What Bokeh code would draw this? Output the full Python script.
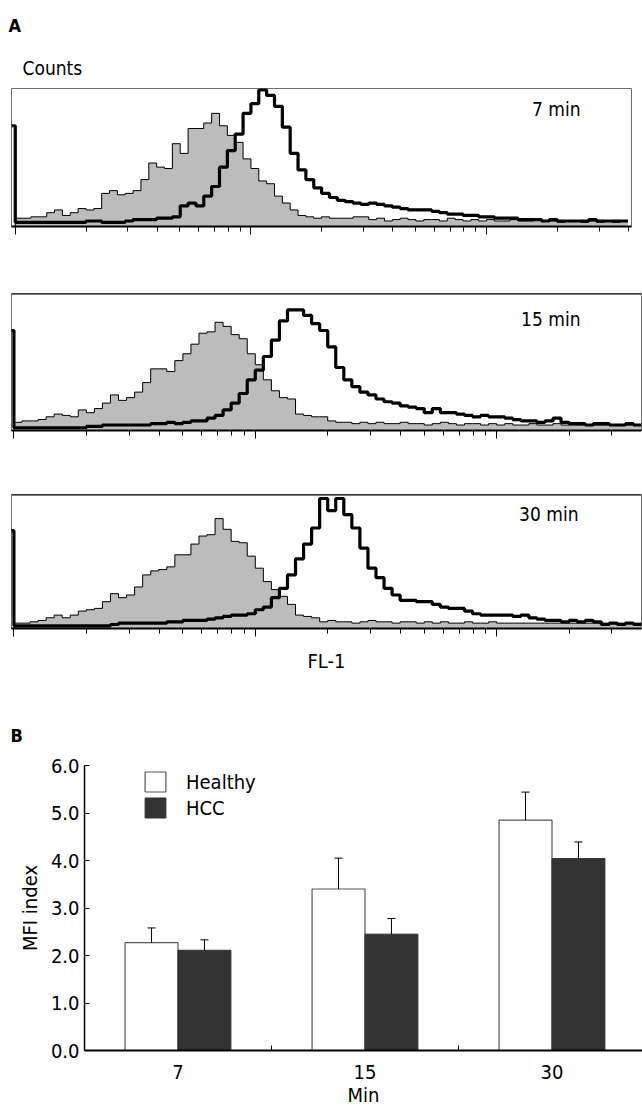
import numpy as np
from bokeh.plotting import figure
from bokeh.models import (Range1d, FixedTicker, SingleIntervalTicker, Label, Legend, LegendItem,
                          Whisker, TeeHead, ColumnDataSource, NumeralTickFormatter, Span,
                          CustomJSTickFormatter, Title)
from bokeh.embed import file_html
from bokeh.resources import INLINE

FONT = "DejaVu Sans Condensed"

# ---------------- Panel A data (flow cytometry histograms, % of max counts) -------------
time_labels = ["7 min", "15 min", "30 min"]
bins_per_decade = 30          # histogram channels per log decade
first_bin = -1                # first channel starts one bin below 10^0 (edge spike)
decades = [1, 10, 100]
minor_mantissas = [2, 3, 4, 5, 6, 7, 8, 9]

control_7 = [0,
             6, 6, 7, 7, 10, 12, 8, 10, 13, 12, 13,
             24, 26, 23, 24, 26, 34, 46, 43, 42, 60,
             53, 71, 71, 75, 82, 73, 66, 61, 49, 42,
             33, 31, 22, 17, 12, 8, 7, 6, 7, 6,
             6, 6, 7, 7, 5, 6, 4, 5, 6, 5,
             4, 5, 5, 4, 6, 5, 4, 5, 4, 5,
             4, 4, 5, 4, 4, 5, 4, 4, 3, 4,
             4, 3, 4, 3, 4, 3, 4]
stained_7 = [73,
             3, 3, 3, 3, 3, 3, 3, 3, 3, 4, 4,
             3, 3, 3, 4, 5, 5, 5, 6, 6, 7,
             15, 17, 15, 22, 29, 43, 55, 67, 82, 89,
             99, 95, 87, 72, 53, 41, 34, 28, 24, 21,
             19, 18, 17, 16, 17, 16, 15, 14, 13, 12,
             12, 12, 11, 10, 9, 9, 8, 8, 7, 7,
             6, 6, 6, 5, 5, 5, 4, 5, 4, 4,
             4, 4, 5, 4, 4, 4, 4]
control_15 = [0,
              6, 7, 7, 8, 10, 12, 11, 10, 15, 13, 16,
              20, 26, 22, 24, 28, 35, 45, 45, 43, 51,
              56, 63, 71, 72, 79, 76, 70, 67, 56, 48,
              37, 29, 24, 23, 12, 11, 10, 10, 7, 6,
              6, 5, 6, 5, 6, 5, 5, 6, 5, 5,
              4, 5, 6, 5, 4, 5, 5, 4, 5, 4,
              5, 4, 4, 5, 4, 4, 5, 4, 4, 4,
              4, 4, 4, 4, 4, 4, 4]
stained_15 = [73,
              2, 2, 2, 2, 2, 2, 2, 2, 2, 3, 3,
              4, 4, 4, 4, 4, 4, 5, 5, 6, 5,
              6, 7, 7, 9, 11, 15, 20, 27, 37, 44,
              54, 66, 80, 88, 88, 84, 78, 73, 61, 46,
              37, 32, 28, 26, 23, 21, 20, 18, 17, 16,
              13, 16, 13, 13, 12, 11, 10, 11, 10, 10,
              9, 8, 7, 7, 6, 7, 9, 6, 5, 5,
              4, 5, 5, 4, 4, 5, 4]
control_30 = [0,
              4, 4, 5, 6, 8, 10, 8, 10, 13, 14, 15,
              20, 26, 23, 25, 31, 40, 43, 44, 46, 55,
              55, 63, 69, 70, 82, 74, 65, 64, 54, 45,
              35, 29, 24, 18, 10, 9, 8, 5, 6, 5,
              5, 4, 5, 6, 5, 5, 4, 5, 5, 4,
              5, 4, 5, 4, 4, 5, 4, 4, 5, 4,
              4, 4, 4, 4, 4, 4, 4, 4, 4, 4,
              4, 4, 4, 4, 4, 4, 4]
stained_30 = [73,
              2, 2, 2, 2, 2, 2, 2, 2, 2, 2, 2,
              2, 3, 4, 4, 4, 4, 4, 4, 5, 5,
              6, 6, 6, 7, 8, 9, 10, 10, 11, 14,
              16, 23, 30, 40, 52, 63, 75, 97, 88, 97,
              85, 75, 60, 45, 38, 30, 25, 21, 21, 20,
              20, 18, 16, 15, 15, 13, 11, 10, 10, 10,
              10, 9, 10, 8, 7, 6, 6, 5, 6, 5,
              6, 5, 3, 4, 3, 4, 3]

# ---------------- Panel B data (MFI index) ----------------
minutes = ["7", "15", "30"]
healthy = [2.27, 3.40, 4.85]
healthy_sd = [0.31, 0.65, 0.59]
hcc = [2.11, 2.45, 4.04]
hcc_sd = [0.22, 0.33, 0.35]

blank = CustomJSTickFormatter(code="return ''")


def histogram(control, stained, tag, xlog, height, border_top, border_bottom,
              border_right, tag_dx, tag_dy, thick_top=False):
    n = len(control)
    edges = 10 ** ((np.arange(n + 1) + first_bin) / bins_per_decade)
    c = list(control) + [control[-1]]
    s = list(stained) + [stained[-1]]
    x0, x1 = 10 ** xlog[0], 10 ** xlog[1]
    p = figure(width=642, height=height, x_axis_type="log",
               x_range=Range1d(x0, x1), y_range=Range1d(0, 100),
               toolbar_location=None, output_backend="svg", y_axis_location=None,
               min_border_left=11, min_border_right=border_right,
               min_border_top=border_top, min_border_bottom=border_bottom)
    p.grid.visible = False
    p.outline_line_color = "#707070"
    p.outline_line_width = 1
    p.background_fill_color = "white"
    p.border_fill_color = "white"
    p.varea_step(x=edges, y1=0, y2=c, step_mode="after", fill_color="#bcbcbc")
    p.step(x=edges, y=s, mode="after", line_color="black", line_width=3.2)
    p.step(x=edges, y=c, mode="after", line_color="black", line_width=1)
    minors = [m * d for d in decades for m in minor_mantissas if m * d <= x1]
    ax = p.xaxis[0]
    ax.ticker = FixedTicker(ticks=[d for d in decades if d <= x1], minor_ticks=minors)
    ax.formatter = blank
    ax.major_label_text_font_size = "6px"
    ax.major_label_standoff = 0
    ax.major_tick_out = 8
    ax.major_tick_in = 0
    ax.minor_tick_out = 5
    ax.minor_tick_in = 0
    ax.axis_line_width = 2
    ax.axis_line_color = "black"
    ax.major_tick_line_color = "black"
    ax.minor_tick_line_color = "black"
    if thick_top:
        p.add_layout(Span(location=100, dimension="width", line_color="black", line_width=2))
    p.add_layout(Label(x=x1, y=100, x_offset=tag_dx, y_offset=tag_dy, text=tag,
                       text_align="right", text_baseline="middle", text_font=FONT,
                       text_font_size="19px", text_color="black"))
    return p


p1 = histogram(control_7, stained_7, time_labels[0], (-0.016, 2.615), 245,
               88, 19, 11, -51, -20)
p1.add_layout(Title(text="Counts", align="left", offset=11, standoff=19, text_font=FONT,
                    text_font_size="19px", text_font_style="normal", text_color="black"),
              "above")
p1.add_layout(Title(text="A", align="left", offset=-3, standoff=19, text_font=FONT,
                    text_font_size="18px", text_font_style="bold", text_color="black"),
              "above")

p2 = histogram(control_15, stained_15, time_labels[1], (-0.01, 2.60), 205,
               48, 20, 1, -61, -25, thick_top=True)
p3 = histogram(control_30, stained_30, time_labels[2], (-0.01, 2.60), 240,
               44, 62, 1, -63, -19, thick_top=True)
ax3 = p3.xaxis[0]
ax3.axis_label = "FL-1"
ax3.axis_label_text_font = FONT
ax3.axis_label_text_font_size = "20px"
ax3.axis_label_text_font_style = "normal"
ax3.axis_label_text_color = "black"
ax3.axis_label_standoff = 12

# ---------------- Panel B ----------------
centers = np.arange(len(minutes)) + 0.5
bar_w = 0.283
p4 = figure(width=642, height=419, x_range=Range1d(0, 2.984), y_range=Range1d(0, 6),
            toolbar_location=None, output_backend="svg",
            min_border_left=84, min_border_right=0, min_border_top=75, min_border_bottom=57)
p4.grid.visible = False
p4.outline_line_color = None
r_h = p4.vbar(x=centers - bar_w / 2, top=healthy, width=bar_w, bottom=0,
              fill_color="white", line_color="#555555", line_width=1.2)
r_c = p4.vbar(x=centers + bar_w / 2, top=hcc, width=bar_w, bottom=0,
              fill_color="#333333", line_color="#333333", line_width=1)
for xs, vals, sds in ((centers - bar_w / 2, healthy, healthy_sd), (centers + bar_w / 2, hcc, hcc_sd)):
    src = ColumnDataSource(dict(base=list(xs), lower=list(vals),
                                upper=[v + e for v, e in zip(vals, sds)]))
    p4.add_layout(Whisker(source=src, base="base", lower="lower", upper="upper",
                          dimension="height", line_color="black", line_width=1,
                          upper_head=TeeHead(size=8, line_color="black", line_width=1),
                          lower_head=None, level="overlay"))

xa = p4.xaxis[0]
xa.ticker = FixedTicker(ticks=list(centers), minor_ticks=list(np.arange(1, len(minutes))))
xa.major_label_overrides = {float(c): m for c, m in zip(centers, minutes)}
xa.major_tick_out = 0
xa.major_tick_in = 0
xa.minor_tick_in = 5
xa.minor_tick_out = 0
xa.axis_line_width = 2
xa.axis_line_color = "black"
xa.minor_tick_line_color = "black"
xa.major_label_standoff = 14
xa.major_label_text_font = FONT
xa.major_label_text_font_size = "20px"
xa.major_label_text_color = "black"
xa.axis_label = "Min"
xa.axis_label_standoff = 1
xa.axis_label_text_font = FONT
xa.axis_label_text_font_size = "20px"
xa.axis_label_text_font_style = "normal"
xa.axis_label_text_color = "black"

ya = p4.yaxis[0]
ya.ticker = SingleIntervalTicker(interval=1, num_minor_ticks=0)
ya.formatter = NumeralTickFormatter(format="0.0")
ya.major_tick_in = 5
ya.major_tick_out = 0
ya.minor_tick_line_color = None
ya.axis_line_width = 1.5
ya.axis_line_color = "black"
ya.major_tick_line_color = "black"
ya.major_label_standoff = 5
ya.major_label_text_font = FONT
ya.major_label_text_font_size = "20px"
ya.major_label_text_color = "black"
ya.axis_label = "MFI index"
ya.axis_label_standoff = 6
ya.axis_label_text_font = FONT
ya.axis_label_text_font_size = "20px"
ya.axis_label_text_font_style = "normal"
ya.axis_label_text_color = "black"

legend = Legend(items=[LegendItem(label="Healthy", renderers=[r_h]),
                       LegendItem(label="HCC", renderers=[r_c])],
                location=(58, 230), glyph_width=26, glyph_height=25, label_standoff=18,
                spacing=1, padding=0, margin=0, border_line_alpha=0, background_fill_alpha=0,
                label_text_font=FONT, label_text_font_size="20px", label_text_color="black",
                label_height=20)
p4.add_layout(legend)
p4.add_layout(Title(text="B", align="left", offset=-74, standoff=40, text_font=FONT,
                    text_font_size="18px", text_font_style="bold", text_color="black"),
              "above")

open("out.html", "w").write(file_html([p1, p2, p3, p4], INLINE))
